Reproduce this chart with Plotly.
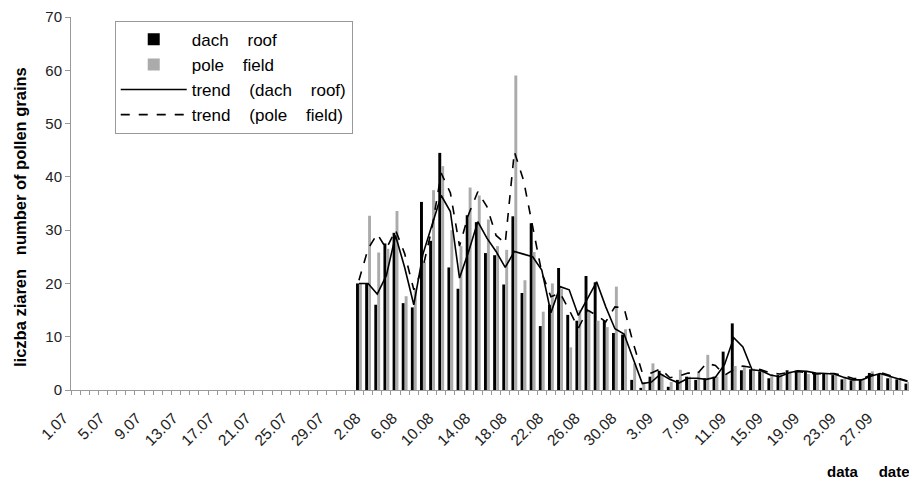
import plotly.graph_objects as go

# calendar categories 1.07 .. 30.09
month_days = [(7, 31), (8, 31), (9, 30)]
categories = [f"{d}.{m:02d}" for m, n in month_days for d in range(1, n + 1)]
tick_labels = categories[::4]

# data: 1.08 .. 30.09 (61 days)
first_day = "1.08"
dach_roof = [20, 20, 16, 27.5, 29.5, 16.3, 15.5, 35.3, 28, 44.5,
             23, 19, 32.8, 31.5, 25.7, 25.3, 19.8, 32.6, 18.2, 31.3,
             12, 16, 22.9, 14.1, 13, 21.4, 20.2, 13, 10.7, 10.4,
             1.9, 0.4, 2.5, 3.6, 0.6, 1.9, 2.5, 1.9, 2.2, 2.5,
             7.2, 12.5, 3.7, 3.9, 3.5, 2.2, 2.8, 3.7, 3.6, 3.4,
             3.0, 3.2, 2.8, 2.0, 1.8, 2.0, 3.2, 3.0, 2.2, 2.0, 1.2]
pole_field = [20, 32.7, 25.8, 26.5, 33.6, 17.6, 19, 24, 37.5, 42,
              30, 27, 38, 36.5, 32, 27, 26.3, 59, 20.6, 25.9,
              14.7, 20, 19, 8, 15, 15, 13, 11.8, 19.4, 11.4,
              5, 1.5, 5, 3, 1.5, 3.8, 2.5, 3.5, 6.6, 2.5,
              3.0, 4.5, 4.5, 4.0, 3.5, 3.0, 3.0, 3.5, 3.5, 3.0,
              3.0, 3.2, 3.0, 2.5, 2.0, 2.2, 3.5, 3.2, 2.5, 2.0, 1.5]
trend_dach = [20, 20, 18, 21.5, 29, 23, 16, 25.5, 31, 36.5,
              33.5, 21, 26, 31.6, 28.5, 26, 23, 26, 25.5, 25,
              22.5, 14.5, 19.4, 18.8, 14, 17.2, 20.3, 15.6, 11.5, 10.5,
              6, 1.2, 1.5, 3.0, 2.0, 1.3, 2.2, 2.2, 2.0, 2.4,
              4.8, 9.8, 8.1, 3.8, 3.6, 2.8, 2.5, 3.2, 3.6, 3.5,
              3.2, 3.1, 3.0, 2.4, 1.9, 1.9, 2.6, 3.1, 2.6, 2.1, 1.6]
trend_pole = [20.6, 26.5, 29.3, 26.5, 30, 25.6, 18.8, 23, 30.5, 40.7,
              37, 27, 33, 37.2, 34.4, 29, 27.5, 44.7, 39.4, 30.6,
              22, 17.5, 18.2, 15, 11.6, 15, 14, 12.8, 15.6, 15.4,
              8.8, 3.2, 3.2, 4.0, 2.3, 2.6, 3.2, 3.0, 5.0, 4.6,
              2.8, 3.8, 4.5, 4.2, 3.8, 3.2, 3.0, 3.3, 3.5, 3.2,
              3.0, 3.1, 3.1, 2.7, 2.2, 2.1, 2.8, 3.3, 2.8, 2.2, 1.7]

start = categories.index(first_day)
x = list(range(start, start + len(dach_roof)))
tickvals = list(range(0, len(categories), 4))

FONT = "Arial, Liberation Sans, sans-serif"

fig = go.Figure()
fig.add_trace(go.Bar(x=x, y=dach_roof, name="dach    roof",
                     marker=dict(color="#000000", line=dict(width=0))))
fig.add_trace(go.Bar(x=x, y=pole_field, name="pole    field",
                     marker=dict(color="#ababab", line=dict(width=0))))
fig.add_trace(go.Scatter(x=x, y=trend_dach, name="trend    (dach    roof)",
                         mode="lines", line=dict(color="#000000", width=1.6)))
fig.add_trace(go.Scatter(x=x, y=trend_pole, name="trend    (pole    field)",
                         mode="lines", line=dict(color="#000000", width=1.6, dash="dash")))

# page body has an 8px margin: figure is 909x479 so it fills the 917x487 window
fig.update_layout(
    width=909, height=479,
    margin=dict(l=63, r=5, t=9, b=97, autoexpand=False),
    paper_bgcolor="white", plot_bgcolor="white",
    barmode="group", bargap=0.36, bargroupgap=0.0,
    font=dict(family=FONT, color="#000000", size=14),
    showlegend=True,
    legend=dict(x=0.052, y=0.99, xanchor="left", yanchor="top",
                bordercolor="#999999", borderwidth=1, bgcolor="white",
                font=dict(size=17, family=FONT), tracegroupgap=0,
                itemwidth=66, traceorder="normal"),
    xaxis=dict(range=[-0.5, len(categories) - 0.5], tickmode="array",
               tickvals=tickvals, ticktext=tick_labels, tickangle=-45,
               ticks="", showline=True, linecolor="#999999", linewidth=1,
               showgrid=False, zeroline=False, automargin=False,
               ticklabelstandoff=12, ticklabelshift=-12,
               tickfont=dict(size=15.5, family=FONT, color="#222222"),
               minor=dict(tickmode="linear", tick0=-0.5, dtick=1,
                          ticks="outside", ticklen=4, tickcolor="#999999",
                          showgrid=False)),
    yaxis=dict(range=[0, 70], tickmode="linear", tick0=0, dtick=10,
               ticks="outside", ticklen=5, tickcolor="#999999",
               showline=True, linecolor="#999999", linewidth=1,
               showgrid=False, zeroline=False, automargin=False,
               tickfont=dict(size=15, family=FONT, color="#222222")),
)

fig.add_annotation(text="<b>liczba ziaren   number of pollen grains</b>",
                   xref="paper", yref="paper", x=-0.0606, y=0.4638,
                   xanchor="center", yanchor="middle", textangle=-90,
                   showarrow=False, font=dict(size=16.5, family=FONT))

fig.add_annotation(text="<b>data     date</b>", xref="paper", yref="paper",
                   x=1.0, y=-0.19, xanchor="right", yanchor="top",
                   showarrow=False, font=dict(size=15, family=FONT))

fig.write_html("out.html")
